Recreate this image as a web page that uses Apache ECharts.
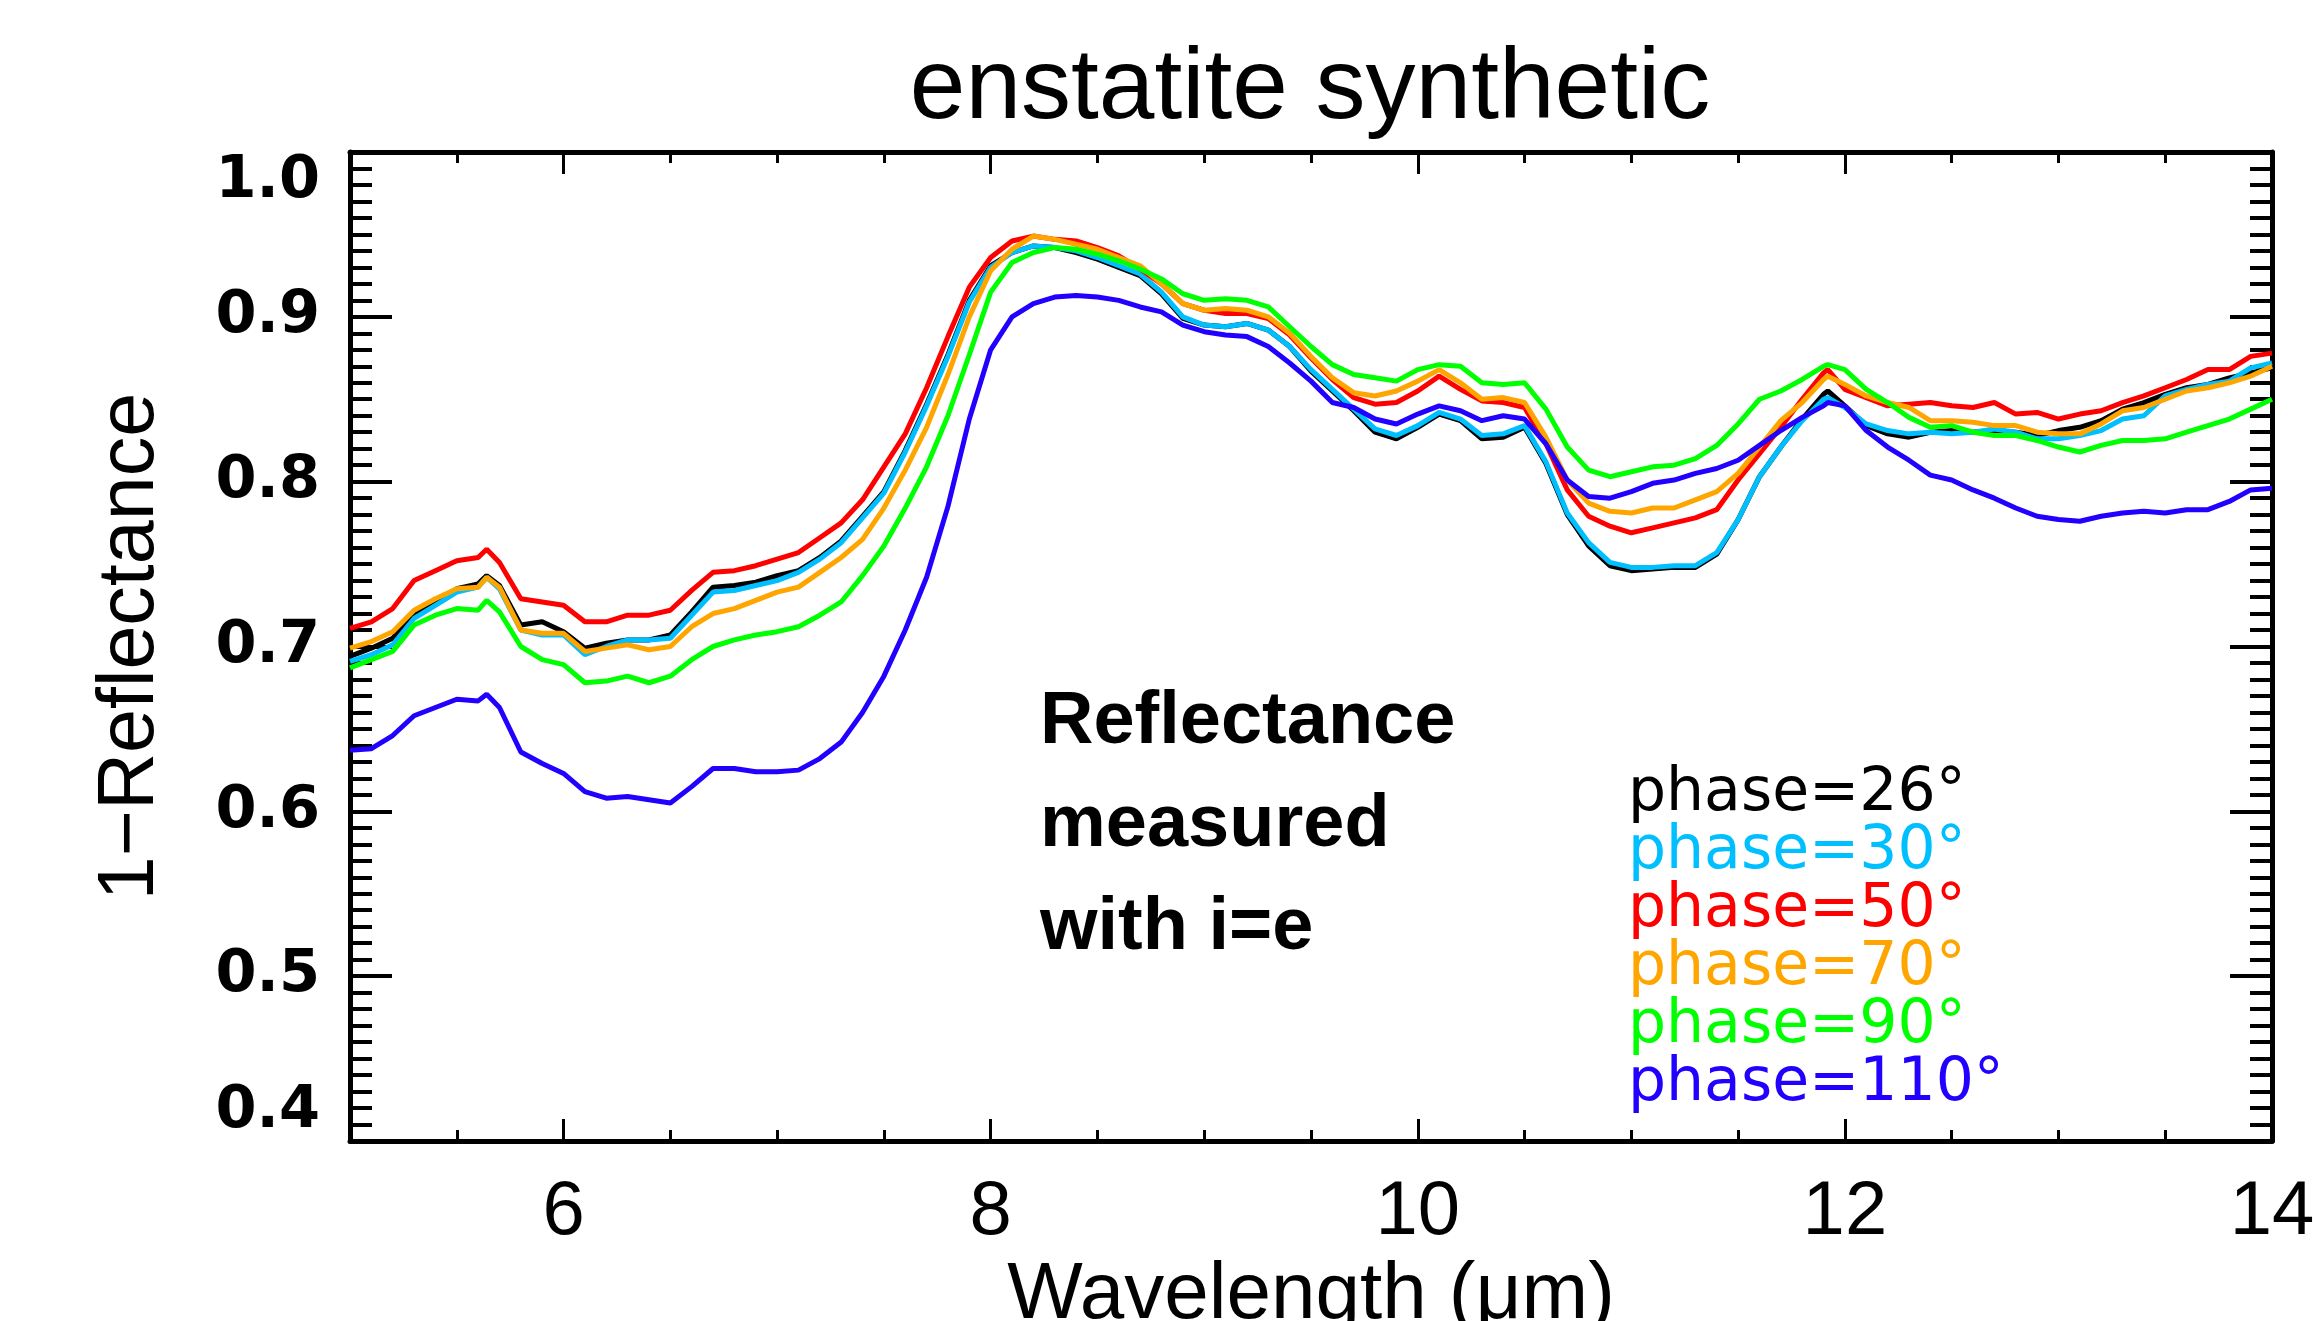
<!DOCTYPE html>
<html>
<head>
<meta charset="utf-8">
<script src="https://cdn.jsdelivr.net/npm/echarts@6/dist/echarts.min.js"></script>
<style>
html,body{margin:0;padding:0;background:#fff;}
#chart{width:2313px;height:1321px;}
</style>
</head>
<body>
<div id="chart"></div>
<script>
// Wavelength grid (µm)
const wavelength = [
  5.0,5.1,5.2,5.3,5.4,5.5,5.6,5.64,5.7,5.8,5.9,
  6.0,6.1,6.2,6.3,6.4,6.5,6.6,6.7,6.8,6.9,
  7.0,7.1,7.2,7.3,7.4,7.5,7.6,7.7,7.8,7.9,
  8.0,8.1,8.2,8.3,8.4,8.5,8.6,8.7,8.8,8.9,
  9.0,9.1,9.2,9.3,9.4,9.5,9.6,9.7,9.8,9.9,
  10.0,10.1,10.2,10.3,10.4,10.5,10.6,10.7,10.8,10.9,
  11.0,11.1,11.2,11.3,11.4,11.5,11.6,11.7,11.8,11.9,11.92,
  12.0,12.1,12.2,12.3,12.4,12.5,12.6,12.7,12.8,12.9,
  13.0,13.1,13.2,13.3,13.4,13.5,13.6,13.7,13.8,13.9,
  14.0
];

const phase26 = [
  0.694,0.699,0.705,0.719,0.727,0.735,0.738,0.743,0.737,0.713,0.715,
  0.709,0.699,0.702,0.704,0.704,0.707,0.721,0.736,0.737,0.739,
  0.743,0.746,0.754,0.764,0.779,0.794,0.819,0.847,0.877,0.910,
  0.931,0.939,0.943,0.942,0.939,0.935,0.930,0.925,0.914,0.899,
  0.895,0.894,0.896,0.892,0.882,0.867,0.855,0.843,0.830,0.826,
  0.833,0.841,0.837,0.826,0.827,0.833,0.811,0.780,0.761,0.749,
  0.746,0.747,0.748,0.748,0.756,0.777,0.803,0.821,0.838,0.853,0.855,
  0.846,0.834,0.829,0.827,0.830,0.831,0.830,0.831,0.830,0.828,
  0.831,0.833,0.837,0.844,0.848,0.853,0.857,0.859,0.863,0.866,
  0.869
];
const phase30 = [
  0.691,0.695,0.701,0.717,0.725,0.733,0.736,0.742,0.735,0.710,0.707,
  0.707,0.695,0.700,0.704,0.704,0.705,0.719,0.733,0.734,0.737,
  0.740,0.745,0.753,0.763,0.778,0.793,0.818,0.846,0.876,0.909,
  0.930,0.939,0.943,0.942,0.940,0.936,0.931,0.926,0.915,0.900,
  0.895,0.894,0.896,0.892,0.882,0.868,0.856,0.844,0.832,0.828,
  0.834,0.842,0.838,0.828,0.829,0.834,0.812,0.781,0.763,0.751,
  0.748,0.748,0.749,0.749,0.757,0.777,0.803,0.821,0.837,0.850,0.851,
  0.845,0.835,0.831,0.829,0.830,0.829,0.830,0.832,0.830,0.826,
  0.826,0.828,0.831,0.838,0.840,0.852,0.856,0.859,0.861,0.869,
  0.872
];
const phase50 = [
  0.711,0.715,0.723,0.740,0.746,0.752,0.754,0.759,0.751,0.729,0.727,
  0.725,0.715,0.715,0.719,0.719,0.722,0.734,0.745,0.746,0.749,
  0.753,0.757,0.766,0.775,0.789,0.809,0.829,0.857,0.888,0.918,
  0.936,0.946,0.949,0.947,0.946,0.942,0.937,0.929,0.920,0.908,
  0.904,0.902,0.902,0.899,0.889,0.875,0.862,0.851,0.847,0.848,
  0.855,0.864,0.856,0.849,0.848,0.845,0.823,0.795,0.779,0.773,
  0.769,0.772,0.775,0.778,0.783,0.801,0.817,0.833,0.850,0.866,0.868,
  0.856,0.851,0.846,0.847,0.848,0.846,0.845,0.848,0.841,0.842,
  0.838,0.841,0.843,0.848,0.852,0.857,0.862,0.868,0.868,0.876,
  0.878
];
const phase70 = [
  0.699,0.703,0.709,0.722,0.729,0.735,0.736,0.742,0.736,0.710,0.708,
  0.708,0.697,0.699,0.701,0.698,0.700,0.712,0.720,0.723,0.728,
  0.733,0.736,0.745,0.754,0.765,0.784,0.807,0.833,0.865,0.900,
  0.928,0.941,0.949,0.947,0.944,0.941,0.936,0.931,0.920,0.908,
  0.904,0.905,0.904,0.900,0.890,0.876,0.863,0.854,0.852,0.855,
  0.861,0.868,0.860,0.850,0.851,0.848,0.827,0.801,0.787,0.782,
  0.781,0.784,0.784,0.789,0.794,0.805,0.821,0.837,0.848,0.862,0.864,
  0.859,0.852,0.848,0.845,0.837,0.837,0.836,0.834,0.834,0.830,
  0.829,0.829,0.835,0.843,0.845,0.850,0.855,0.857,0.860,0.864,
  0.870
];
const phase90 = [
  0.687,0.692,0.697,0.713,0.719,0.723,0.722,0.728,0.721,0.700,0.692,
  0.689,0.678,0.679,0.682,0.678,0.682,0.692,0.700,0.704,0.707,
  0.709,0.712,0.719,0.727,0.743,0.761,0.784,0.809,0.840,0.877,
  0.915,0.933,0.939,0.942,0.941,0.938,0.934,0.929,0.923,0.914,
  0.910,0.911,0.910,0.906,0.894,0.882,0.871,0.865,0.863,0.861,
  0.868,0.871,0.870,0.860,0.859,0.860,0.844,0.821,0.807,0.803,
  0.806,0.809,0.810,0.814,0.822,0.835,0.850,0.855,0.862,0.870,0.871,
  0.868,0.856,0.848,0.839,0.833,0.834,0.830,0.828,0.828,0.825,
  0.821,0.818,0.822,0.825,0.825,0.826,0.830,0.834,0.838,0.844,
  0.850
];
const phase110 = [
  0.637,0.638,0.646,0.658,0.663,0.668,0.667,0.671,0.663,0.636,0.629,
  0.623,0.612,0.608,0.609,0.607,0.605,0.615,0.626,0.626,0.624,
  0.624,0.625,0.632,0.642,0.660,0.682,0.710,0.742,0.785,0.838,
  0.880,0.900,0.908,0.912,0.913,0.912,0.910,0.906,0.903,0.895,
  0.891,0.889,0.888,0.882,0.872,0.861,0.848,0.845,0.838,0.835,
  0.841,0.846,0.843,0.837,0.840,0.838,0.823,0.801,0.791,0.790,
  0.794,0.799,0.801,0.805,0.808,0.813,0.822,0.831,0.839,0.846,0.848,
  0.846,0.831,0.821,0.813,0.804,0.801,0.795,0.790,0.784,0.779,
  0.777,0.776,0.779,0.781,0.782,0.781,0.783,0.783,0.788,0.795,
  0.796
];

const seriesNames = ['phase=26°','phase=30°','phase=50°','phase=70°','phase=90°','phase=110°'];
const seriesValues = [phase26, phase30, phase50, phase70, phase90, phase110];
const seriesColors = ['#000000','#00BFFF','#FF0000','#FFA500','#00FF00','#2200FF'];

const xMajorTicks = [6, 8, 10, 12, 14];
const yTickLabels = ['0.4','0.5','0.6','0.7','0.8','0.9','1.0'];

const chart = echarts.init(document.getElementById('chart'), null, {renderer: 'canvas'});

const black = '#000';
const sansNarrow = '"Liberation Sans", Arial, sans-serif';

function xAxisBase(pos) {
  return {
    type: 'value', min: 5, max: 14, position: pos,
    axisLine: {show: false},
    splitLine: {show: false},
    axisLabel: {show: false},
    axisTick: {show: false}
  };
}

const option = {
  backgroundColor: '#ffffff',
  animation: false,
  title: {
    text: 'enstatite synthetic',
    left: 1310, top: 40, textAlign: 'center', padding: 0,
    textStyle: {fontFamily: sansNarrow, fontSize: 100, fontWeight: 'normal', color: black}
  },
  grid: {left: 350, right: 41, top: 152, bottom: 180, containLabel: false, outerBoundsMode: 'none'},
  legend: {
    orient: 'vertical', left: 1623, top: 764, padding: 0,
    itemGap: -2, itemWidth: 0, itemHeight: 0, icon: 'none', selectedMode: false,
    textStyle: {fontFamily: '"DejaVu Sans", sans-serif', fontSize: 60, lineHeight: 58},
    data: seriesNames.map((n, i) => ({name: n, textStyle: {color: seriesColors[i]}}))
  },
  xAxis: [
    Object.assign(xAxisBase('bottom'), {
      interval: 0.5,
      axisLine: {show: true, onZero: false, lineStyle: {color: black, width: 5}},
      axisTick: {show: true, inside: true, length: 11, lineStyle: {color: black, width: 3}},
      axisLabel: {show: true, customValues: xMajorTicks, margin: 34, fontFamily: sansNarrow, fontSize: 76, color: black},
      name: 'Wavelength (μm)', nameLocation: 'middle', nameGap: 115, nameMoveOverlap: false,
      nameTextStyle: {fontFamily: sansNarrow, fontSize: 80, color: black}
    }),
    Object.assign(xAxisBase('bottom'), {
      axisTick: {show: true, inside: true, length: 22, customValues: xMajorTicks, lineStyle: {color: black, width: 3}}
    }),
    Object.assign(xAxisBase('top'), {
      interval: 0.5,
      axisLine: {show: true, onZero: false, lineStyle: {color: black, width: 5}},
      axisTick: {show: true, inside: true, length: 11, lineStyle: {color: black, width: 3}}
    }),
    Object.assign(xAxisBase('top'), {
      axisTick: {show: true, inside: true, length: 22, customValues: xMajorTicks, lineStyle: {color: black, width: 3}}
    })
  ],
  yAxis: [
    {
      type: 'value', min: 0.4, max: 1.0, interval: 0.1, position: 'left',
      axisLine: {show: true, onZero: false, lineStyle: {color: black, width: 5}},
      axisTick: {show: true, inside: true, length: 42, lineStyle: {color: black, width: 4}},
      minorTick: {show: true, splitNumber: 10, length: 22, lineStyle: {color: black, width: 4}},
      splitLine: {show: false}, minorSplitLine: {show: false},
      axisLabel: {
        show: true, margin: 30, color: black,
        fontFamily: '"DejaVu Sans", sans-serif', fontWeight: 'bold', fontSize: 59,
        verticalAlignMaxLabel: 'top', verticalAlignMinLabel: 'bottom',
        formatter: function (v) {
          const s = v.toFixed(1);
          return yTickLabels.indexOf(s) >= 0 ? s : '';
        }
      },
      name: '1−Reflectance', nameLocation: 'middle', nameGap: 179, nameRotate: 90, nameMoveOverlap: false,
      nameTextStyle: {fontFamily: sansNarrow, fontSize: 79, color: black}
    },
    {
      type: 'value', min: 0.4, max: 1.0, interval: 0.1, position: 'right',
      axisLine: {show: true, onZero: false, lineStyle: {color: black, width: 5}},
      axisTick: {show: true, inside: true, length: 42, lineStyle: {color: black, width: 4}},
      minorTick: {show: true, splitNumber: 10, length: 22, lineStyle: {color: black, width: 4}},
      splitLine: {show: false}, minorSplitLine: {show: false},
      axisLabel: {show: false}
    }
  ],
  graphic: [
    {
      type: 'text', left: 1040, top: 671, silent: true,
      style: {
        text: 'Reflectance\nmeasured\nwith i=e',
        font: 'bold 74px "Liberation Sans", Arial, sans-serif',
        lineHeight: 103, fill: black
      }
    }
  ],
  series: seriesNames.map((n, i) => ({
    name: n, type: 'line', xAxisIndex: 0, yAxisIndex: 0,
    showSymbol: false, symbol: 'none', smooth: false,
    lineStyle: {color: seriesColors[i], width: 5},
    itemStyle: {color: seriesColors[i]},
    data: wavelength.map((w, k) => [w, seriesValues[i][k]])
  }))
};

chart.setOption(option);
</script>
</body>
</html>
